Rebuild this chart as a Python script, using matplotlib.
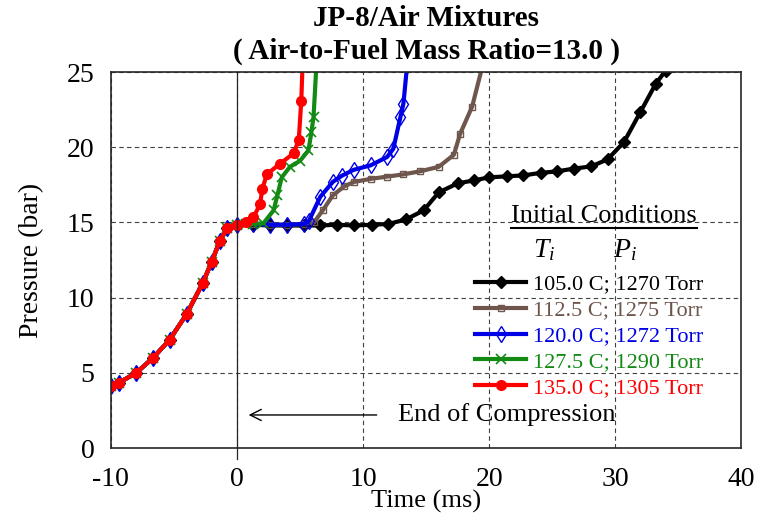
import numpy as np
import matplotlib.pyplot as plt

plt.rcParams['font.family'] = ['Liberation Serif', 'DejaVu Serif']
plt.rcParams['mathtext.fontset'] = 'custom'
plt.rcParams['mathtext.it'] = 'Liberation Serif:italic'
plt.rcParams['mathtext.rm'] = 'Liberation Serif'
plt.rcParams['axes.unicode_minus'] = False

# shared compression stroke (ms, bar)
t_comp = [-10.0, -9.35, -8.0, -6.65, -5.35, -4.0, -2.7, -2.0, -1.35, -0.8, 0.0]
p_comp = [4.15, 4.35, 5.0, 6.0, 7.2, 8.9, 11.0, 12.4, 13.8, 14.6, 14.85]

# post-compression data for each run
t_105 = [1.3, 2.6, 4.0, 5.3, 6.6, 7.9, 9.3, 10.7, 12.0, 13.4, 14.8, 16.0, 17.5, 18.8,
         20.0, 21.4, 22.7, 24.1, 25.4, 26.7, 28.1, 29.4, 30.7, 32.0, 33.2, 34.0, 34.4]
p_105 = [14.85, 14.8, 14.8, 14.8, 14.8, 14.85, 14.8, 14.85, 14.9, 15.2, 15.8, 17.0, 17.6, 17.8,
         18.0, 18.07, 18.13, 18.3, 18.4, 18.58, 18.73, 19.2, 20.35, 22.35, 24.2, 25.1, 25.6]

t_112 = [1.3, 2.6, 4.0, 5.3, 6.1, 6.8, 7.6, 8.5, 9.3, 10.6, 11.9, 13.2, 14.5, 16.0,
         17.2, 17.7, 18.65, 19.5]
p_112 = [14.9, 14.85, 14.85, 14.9, 15.0, 15.8, 16.8, 17.4, 17.7, 17.9, 18.05, 18.2, 18.4, 18.7,
         19.5, 20.9, 22.7, 25.5]

t_120 = [1.3, 2.6, 4.0, 5.3, 5.7, 6.6, 7.6, 8.3, 9.25, 10.6, 11.9, 12.4, 12.96, 13.2, 13.5]
p_120 = [14.9, 14.85, 14.85, 14.9, 15.1, 16.7, 17.7, 18.1, 18.5, 18.8, 19.35, 19.9, 22.0, 22.9, 25.5]

t_127 = [0.7, 1.3, 2.1, 2.9, 3.2, 3.55, 4.2, 5.0, 5.67, 5.9, 6.07, 6.3]
p_127 = [14.9, 14.9, 14.95, 15.8, 16.8, 18.0, 18.7, 19.1, 19.8, 21.0, 22.0, 25.5]

t_135 = [0.7, 1.3, 1.83, 2.0, 2.36, 3.4, 4.5, 4.9, 5.1, 5.2]
p_135 = [15.0, 15.35, 16.2, 17.2, 18.2, 18.9, 19.6, 20.5, 23.1, 25.5]

labels = ['105.0 C; 1270 Torr', '112.5 C; 1275 Torr', '120.0 C; 1272 Torr',
          '127.5 C; 1290 Torr', '135.0 C; 1305 Torr']
colors = ['black', '#6e564c', '#0000e6', '#138a13', '#ff0000']

runs = [(t_105, p_105), (t_112, p_112), (t_120, p_120), (t_127, p_127), (t_135, p_135)]
styles = [dict(marker='D', ms=6.5, mfc='black'),
          dict(marker='s', ms=5, mfc='none', mew=1),
          dict(marker='d', ms=8, mfc='none', mew=1),
          dict(marker='x', ms=7, mew=1.2),
          dict(marker='o', ms=7, mfc='#ff0000')]

fig = plt.figure(figsize=(7.65, 5.15), dpi=100)
ax = fig.add_axes([0.145, 0.13, 0.824, 0.73])

for (t, p), lab, c, st in zip(runs, labels, colors, styles):
    ax.plot(t_comp + t, p_comp + p, color=c, lw=3, mec=c, label=lab, **st)

ax.set_xlim(-10, 40)
ax.set_ylim(0, 25)
ax.set_xticks([-10, 0, 10, 20, 30, 40])
ax.set_yticks([0, 5, 10, 15, 20, 25])
ax.grid(True, color='0.25', lw=0.8, linestyle=(0, (4, 3)))
ax.tick_params(length=0, labelsize=20)
ax.tick_params(axis='x', pad=14)
ax.tick_params(axis='y', pad=12)
for s in ax.spines.values():
    s.set_color('0.15')
    s.set_linewidth(1.2)
ax.axvline(0, ymin=-0.028, ymax=1, color='0.15', lw=0.9, clip_on=False)

ax.set_xlabel('Time (ms)', fontsize=19, labelpad=-2)
ax.set_ylabel('Pressure (bar)', fontsize=20, labelpad=16)
ax.set_title('JP-8/Air Mixtures\n( Air-to-Fuel Mass Ratio=13.0 )',
             fontsize=21, fontweight='bold', linespacing=1.25, pad=10)

ax.annotate('', xy=(0.7, 2.2), xytext=(11.3, 2.2),
            arrowprops=dict(arrowstyle='->', color='black', lw=1, mutation_scale=20))
ax.text(12.8, 2.2, 'End of Compression', fontsize=19, va='center', ha='left')

# legend header
ax.text(0.782, 0.617, 'Initial Conditions', transform=ax.transAxes,
        fontsize=19, ha='center', va='center')
ax.plot([0.634, 0.930], [0.585, 0.585], transform=ax.transAxes, color='black', lw=1.5)
ax.text(0.688, 0.527, '$T_i$', transform=ax.transAxes, fontsize=20, ha='center', va='center')
ax.text(0.816, 0.527, '$P_i$', transform=ax.transAxes, fontsize=20, ha='center', va='center')

leg = ax.legend(loc='upper left', bbox_to_anchor=(0.578, 0.463), frameon=False,
                fontsize=16, handlelength=2.3, handletextpad=0.3, labelspacing=0.24,
                borderpad=0, borderaxespad=0, labelcolor='linecolor')

fig.savefig('out.png', dpi=100)
